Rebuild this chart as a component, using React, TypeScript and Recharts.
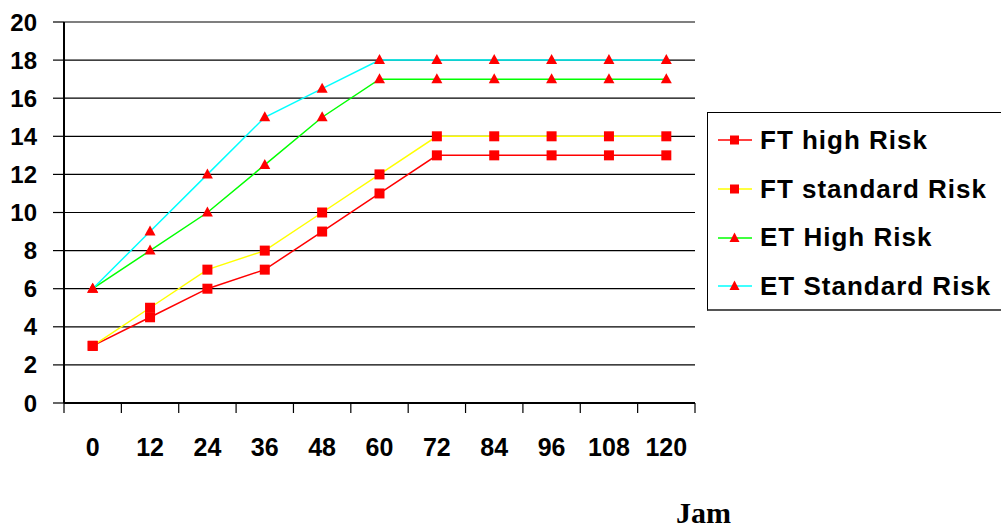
import React from "react";
import { CartesianGrid, Line, LineChart, XAxis, YAxis } from "recharts";

const months = [0, 12, 24, 36, 48, 60, 72, 84, 96, 108, 120];
const ftHigh = [3, 4.5, 6, 7, 9, 11, 13, 13, 13, 13, 13];
const ftStandard = [3, 5, 7, 8, 10, 12, 14, 14, 14, 14, 14];
const etHigh = [6, 8, 10, 12.5, 15, 17, 17, 17, 17, 17, 17];
const etStandard = [6, 9, 12, 15, 16.5, 18, 18, 18, 18, 18, 18];

const yTicks = [0, 2, 4, 6, 8, 10, 12, 14, 16, 18, 20];
// tick marks sit between the categories, labels at the categories
const boundaryTicks = [-6, 6, 18, 30, 42, 54, 66, 78, 90, 102, 114, 126];

const series = [
  { key: "ftHigh", name: "FT high Risk", color: "#ff0000", marker: "square" },
  { key: "ftStandard", name: "FT standard Risk", color: "#ffff00", marker: "square" },
  { key: "etHigh", name: "ET High Risk", color: "#00ff00", marker: "triangle" },
  { key: "etStandard", name: "ET Standard Risk", color: "#00ffff", marker: "triangle" },
];

const rows = months.map((m, i) => ({
  month: m,
  ftHigh: ftHigh[i],
  ftStandard: ftStandard[i],
  etHigh: etHigh[i],
  etStandard: etStandard[i],
}));

const FONT = "'Liberation Sans', Arial, sans-serif";

function SquareDot(props: any) {
  const { cx, cy } = props;
  if (cx == null || cy == null) return null;
  return <rect x={cx - 5} y={cy - 5} width={10} height={10} fill="#ff0000" />;
}

function TriangleDot(props: any) {
  const { cx, cy } = props;
  if (cx == null || cy == null) return null;
  return <path d={`M${cx},${cy - 6} L${cx + 5.5},${cy + 4} L${cx - 5.5},${cy + 4} Z`} fill="#ff0000" />;
}

function LegendIcon({ color, marker }: { color: string; marker: string }) {
  return (
    <svg width={36} height={14} style={{ display: "block" }}>
      <line x1={0} y1={7} x2={34} y2={7} stroke={color} strokeWidth={1.5} />
      {marker === "square" ? (
        <rect x={12} y={2.5} width={9} height={9} fill="#ff0000" />
      ) : (
        <path d="M16.5,1.5 L21.5,11 L11.5,11 Z" fill="#ff0000" />
      )}
    </svg>
  );
}

export default function App() {
  return (
    <div style={{ position: "absolute", left: 0, top: 0, width: 1001, height: 528, background: "#fff", overflow: "hidden" }}>
      <LineChart width={1001} height={528} data={rows} margin={{ top: 22, right: 306, bottom: 65, left: 0 }}>
        <CartesianGrid xAxisId="a" vertical={false} stroke="#000" strokeWidth={1.2} />
        <XAxis
          xAxisId="a"
          type="number"
          dataKey="month"
          domain={[-6, 126]}
          ticks={boundaryTicks}
          tickFormatter={() => ""}
          tickSize={10}
          height={10}
          axisLine={{ stroke: "#000", strokeWidth: 2 }}
          tickLine={{ stroke: "#000", strokeWidth: 1.2 }}
          allowDataOverflow
        />
        <XAxis
          xAxisId="b"
          type="number"
          dataKey="month"
          domain={[-6, 126]}
          ticks={months}
          interval={0}
          tickSize={0}
          tickMargin={25}
          height={50}
          axisLine={false}
          tickLine={false}
          tick={{ fill: "#000", fontSize: 25, fontWeight: "bold", fontFamily: FONT }}
          allowDataOverflow
        />
        <YAxis
          type="number"
          domain={[0, 20]}
          ticks={yTicks}
          interval={0}
          width={64}
          tickSize={11}
          tickMargin={16}
          axisLine={{ stroke: "#000", strokeWidth: 2 }}
          tickLine={{ stroke: "#000", strokeWidth: 1.2 }}
          tick={{ fill: "#000", fontSize: 24, fontWeight: "bold", fontFamily: FONT }}
        />
        <YAxis
          yAxisId="right"
          orientation="right"
          width={0}
          tick={false}
          tickLine={false}
          axisLine={{ stroke: "#000", strokeWidth: 2 }}
        />
        {series.map((s) => (
          <Line
            key={s.key}
            xAxisId="a"
            type="linear"
            dataKey={s.key}
            name={s.name}
            stroke={s.color}
            strokeWidth={1.5}
            dot={s.marker === "square" ? <SquareDot /> : <TriangleDot />}
            activeDot={false}
            isAnimationActive={false}
          />
        ))}
      </LineChart>

      <div
        style={{
          position: "absolute",
          left: 707,
          top: 112,
          width: 310,
          height: 199,
          boxSizing: "border-box",
          border: "1px solid #000",
          borderBottom: "2px solid #555",
          background: "#fff",
          paddingTop: 3,
        }}
      >
        {series.map((s) => (
          <div key={s.key} style={{ display: "flex", alignItems: "center", height: 48.7 }}>
            <div style={{ width: 10 }} />
            <LegendIcon color={s.color} marker={s.marker} />
            <div
              style={{
                marginLeft: 6,
                fontFamily: FONT,
                fontWeight: "bold",
                fontSize: 26,
                letterSpacing: 1,
                color: "#000",
                whiteSpace: "nowrap",
              }}
            >
              {s.name}
            </div>
          </div>
        ))}
      </div>

      <div
        style={{
          position: "absolute",
          left: 676,
          top: 498,
          fontFamily: "'Liberation Serif', 'Times New Roman', serif",
          fontWeight: "bold",
          fontSize: 30,
          lineHeight: "30px",
          color: "#000",
        }}
      >
        Jam
      </div>
    </div>
  );
}
